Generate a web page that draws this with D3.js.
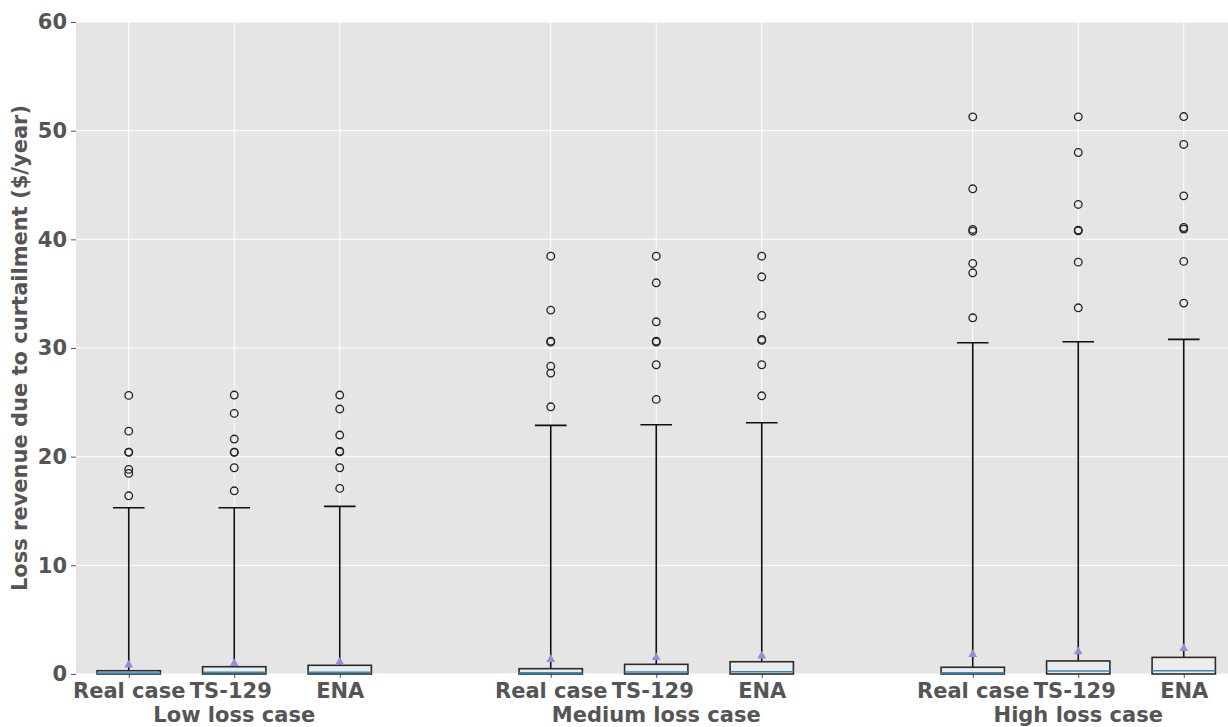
<!DOCTYPE html>
<html>
<head>
<meta charset="utf-8">
<script src="https://cdn.jsdelivr.net/npm/d3@7"></script>
<style>
  html, body { margin: 0; padding: 0; background: #ffffff; }
  svg { display: block; }
</style>
</head>
<body>
<div id="chart"></div>
<script>
// ---- data ----
const groups = ["Low loss case", "Medium loss case", "High loss case"];
const methods = ["Real case", "TS-129", "ENA"];
const positions = [1, 2, 3, 5, 6, 7, 9, 10, 11];
const q1 = [0, 0, 0, 0, 0, 0, 0, 0, 0];
const medians = [0.08, 0.15, 0.15, 0.10, 0.18, 0.21, 0.10, 0.28, 0.30];
const q3 = [0.30, 0.67, 0.80, 0.49, 0.89, 1.13, 0.62, 1.20, 1.53];
const means = [0.83, 0.98, 1.10, 1.35, 1.53, 1.66, 1.80, 2.05, 2.35];
const whiskerLo = [0, 0, 0, 0, 0, 0, 0, 0, 0];
const whiskerHi = [15.30, 15.30, 15.43, 22.88, 22.94, 23.12, 30.48, 30.57, 30.79];
const outliers = [
  [25.64, 22.35, 20.42, 20.40, 18.83, 18.46, 16.40],
  [25.67, 23.98, 21.62, 20.42, 20.40, 18.98, 16.86],
  [25.67, 24.38, 21.99, 20.50, 20.45, 18.98, 17.08],
  [38.45, 33.49, 30.63, 30.55, 28.33, 27.69, 24.59],
  [38.45, 36.00, 32.41, 30.63, 30.55, 28.46, 25.27],
  [38.45, 36.55, 33.00, 30.79, 30.70, 28.46, 25.60],
  [51.27, 44.65, 40.91, 40.75, 37.78, 36.92, 32.78],
  [51.27, 47.99, 43.21, 40.85, 40.78, 37.90, 33.70],
  [51.30, 48.73, 44.00, 41.09, 40.94, 37.97, 34.13]
];
const yTicks = [0, 10, 20, 30, 40, 50, 60];
const yLabel = "Loss revenue due to curtailment ($/year)";

// ---- layout ----
const W = 1228, H = 727;
const mLeft = 76, mTop = 22, mBottom = 674;
const unit = 105.5;
const mRight = mLeft + 11 * unit;

const svg = d3.select("#chart").append("svg").attr("width", W).attr("height", H);

const x = d3.scaleLinear().domain([0.5, 11.5]).range([mLeft, mRight]);
const y = d3.scaleLinear().domain([0, 60]).range([mBottom, mTop]);

// background
svg.append("rect").attr("x", mLeft).attr("y", mTop)
  .attr("width", mRight - mLeft).attr("height", mBottom - mTop).attr("fill", "#e5e5e5");

// grid
svg.append("g").selectAll("line").data(yTicks).join("line")
  .attr("x1", mLeft).attr("x2", mRight)
  .attr("y1", d => y(d)).attr("y2", d => y(d))
  .attr("stroke", "#ffffff").attr("stroke-width", 1);
svg.append("g").selectAll("line").data(positions).join("line")
  .attr("x1", d => x(d)).attr("x2", d => x(d))
  .attr("y1", mTop).attr("y2", mBottom)
  .attr("stroke", "#ffffff").attr("stroke-width", 1);

// axes
const font = "'DejaVu Sans', sans-serif";
const yAxis = svg.append("g").attr("transform", `translate(${mLeft},0)`)
  .call(d3.axisLeft(y).tickValues(yTicks).tickSize(5).tickPadding(4).tickFormat(d3.format("d")));
yAxis.select(".domain").remove();
yAxis.selectAll("line").attr("stroke", "#555555");
yAxis.selectAll("text").attr("font-family", font).attr("font-weight", "bold")
  .attr("font-size", 21).attr("fill", "#555555");

const xAxis = svg.append("g").attr("transform", `translate(0,${mBottom})`)
  .call(d3.axisBottom(x).tickValues(positions).tickSize(4).tickPadding(5)
    .tickFormat((d, i) => methods[i % 3]));
xAxis.select(".domain").remove();
xAxis.selectAll("line").attr("stroke", "#555555");
xAxis.selectAll("text").attr("font-family", font).attr("font-weight", "bold")
  .attr("font-size", 21).attr("fill", "#555555")
  .attr("dx", (d, i) => (i % 3 === 1 ? -4 : 0));

// group labels (second line under middle tick)
svg.append("g").selectAll("text").data(groups).join("text")
  .attr("x", (d, i) => x(positions[i * 3 + 1]))
  .attr("y", 722)
  .attr("text-anchor", "middle")
  .attr("font-family", font).attr("font-weight", "bold")
  .attr("font-size", 21).attr("fill", "#555555")
  .text(d => d);

// y label
svg.append("text")
  .attr("transform", `translate(27,${(mTop + mBottom) / 2}) rotate(-90)`)
  .attr("text-anchor", "middle")
  .attr("font-family", font).attr("font-weight", "bold")
  .attr("font-size", 21).attr("fill", "#555555")
  .text(yLabel);

// boxes
const bw = 0.6, cw = 0.3;
const g = svg.append("g");
positions.forEach((p, i) => {
  const bx = g.append("g");
  bx.append("line").attr("x1", x(p)).attr("x2", x(p))
    .attr("y1", y(q3[i])).attr("y2", y(whiskerHi[i]))
    .attr("stroke", "#111111").attr("stroke-width", 1.6);
  bx.append("line").attr("x1", x(p - cw / 2)).attr("x2", x(p + cw / 2))
    .attr("y1", y(whiskerHi[i])).attr("y2", y(whiskerHi[i]))
    .attr("stroke", "#111111").attr("stroke-width", 1.6);
  bx.append("rect").attr("x", x(p - bw / 2)).attr("width", x(p + bw / 2) - x(p - bw / 2))
    .attr("y", y(q3[i])).attr("height", y(q1[i]) - y(q3[i]))
    .attr("fill", "#ececec").attr("stroke", "#2b2b2b").attr("stroke-width", 1.6);
  bx.append("line").attr("x1", x(p - bw / 2)).attr("x2", x(p + bw / 2))
    .attr("y1", y(medians[i])).attr("y2", y(medians[i]))
    .attr("stroke", "#348ABD").attr("stroke-width", 1.6);
  bx.selectAll("circle").data(outliers[i]).join("circle")
    .attr("cx", x(p)).attr("cy", d => y(d)).attr("r", 3.8)
    .attr("fill", "none").attr("stroke", "#222222").attr("stroke-width", 1.3);
  bx.append("path")
    .attr("d", d3.symbol().type(d3.symbolTriangle).size(34)())
    .attr("transform", `translate(${x(p)},${y(means[i])})`)
    .attr("fill", "#988ED5");
});
</script>
</body>
</html>
